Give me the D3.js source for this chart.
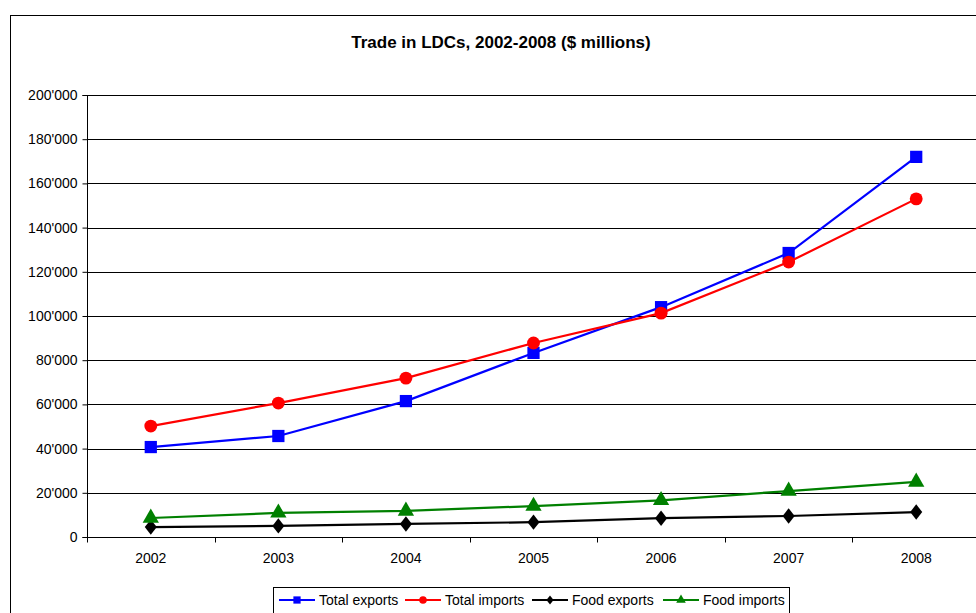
<!DOCTYPE html>
<html>
<head>
<meta charset="utf-8">
<script src="https://cdn.jsdelivr.net/npm/d3@7"></script>
<style>
  body { margin: 0; background: #fff; }
  svg { display: block; font-family: "Liberation Sans", Arial, sans-serif; }
</style>
</head>
<body>
<div id="chart"></div>
<script>
// data
var years = ["2002", "2003", "2004", "2005", "2006", "2007", "2008"];
var totalExports = [40700, 45700, 61500, 83300, 104000, 128500, 172000];
var totalImports = [50200, 60600, 71900, 87800, 101300, 124400, 153000];
var foodExports = [4500, 5000, 5900, 6700, 8500, 9500, 11300];
var foodImports = [8600, 10900, 11800, 14000, 16600, 20800, 24900];
var yTicks = [0, 20000, 40000, 60000, 80000, 100000, 120000, 140000, 160000, 180000, 200000];

// diamond drawn as a rotated square, a bit taller than wide
var diamond = {
  draw: function(ctx, size) {
    var w = Math.sqrt(size) * 0.55, h = Math.sqrt(size) * 0.7;
    ctx.moveTo(0, -h); ctx.lineTo(w, 0); ctx.lineTo(0, h); ctx.lineTo(-w, 0); ctx.closePath();
  }
};

var series = [
  {name: "Total exports", values: totalExports, color: "#0000ff", shape: d3.symbolSquare, size: 150},
  {name: "Total imports", values: totalImports, color: "#ff0000", shape: d3.symbolCircle, size: 130},
  {name: "Food exports", values: foodExports, color: "#000000", shape: diamond, size: 120},
  {name: "Food imports", values: foodImports, color: "#008000", shape: d3.symbolTriangle, size: 115}
];

var W = 976, H = 613;
var margin = {top: 95, left: 87};
var plotW = 893, plotH = 442;

var svg = d3.select("#chart").append("svg")
  .attr("width", W)
  .attr("height", H);

// outer chart border
svg.append("rect")
  .attr("x", 10.5).attr("y", 15.5)
  .attr("width", 1000).attr("height", 700)
  .attr("fill", "none")
  .attr("stroke", "#000")
  .attr("stroke-width", 1);

// title
svg.append("text")
  .attr("x", 501)
  .attr("y", 48)
  .attr("text-anchor", "middle")
  .style("font-size", "17px")
  .style("font-weight", "bold")
  .text("Trade in LDCs, 2002-2008 ($ millions)");

var g = svg.append("g")
  .attr("transform", "translate(" + margin.left + "," + margin.top + ")");

var x = d3.scaleBand()
  .domain(years)
  .range([0, plotW]);

var y = d3.scaleLinear()
  .domain([0, 200000])
  .range([plotH, 0]);

// gridlines
g.selectAll(".grid")
  .data(yTicks.slice(1))
  .enter()
  .append("line")
    .attr("x1", 0).attr("x2", plotW)
    .attr("y1", function(d) { return Math.round(y(d)) + 0.5; })
    .attr("y2", function(d) { return Math.round(y(d)) + 0.5; })
    .attr("stroke", "#000")
    .attr("stroke-width", 1);

// Y axis
var yAxis = g.append("g")
  .attr("transform", "translate(0.5,0)")
  .call(d3.axisLeft(y).tickValues(yTicks).tickSize(5).tickPadding(5)
    .tickFormat(function(d) { return d3.format(",")(d).replace(/,/g, "'"); }));
yAxis.selectAll("text").style("font-size", "14px").attr("fill", "#000").style("font-family", "Liberation Sans, Arial, sans-serif");
yAxis.select(".domain").attr("d", "M-5,0.5H0V" + (plotH + 0.5) + "H-5").attr("stroke", "#000");

// X axis
var xAxis = g.append("g")
  .attr("transform", "translate(0," + (plotH + 0.5) + ")")
  .call(d3.axisBottom(x).tickSize(0).tickPadding(16));
xAxis.selectAll("text").style("font-size", "14px").attr("fill", "#000").style("font-family", "Liberation Sans, Arial, sans-serif");
xAxis.select(".domain").attr("d", "M0,0H" + plotW).attr("stroke", "#000");
xAxis.selectAll(".xtick")
  .data(years)
  .enter()
  .append("line")
    .attr("x1", function(d) { return Math.round(x(d)) + 0.5; })
    .attr("x2", function(d) { return Math.round(x(d)) + 0.5; })
    .attr("y1", 0).attr("y2", 5)
    .attr("stroke", "#000");

// lines and markers
var line = d3.line()
  .x(function(d, i) { return x(years[i]) + x.bandwidth() / 2; })
  .y(function(d) { return y(d); });

series.forEach(function(s) {
  g.append("path")
    .datum(s.values)
    .attr("d", line)
    .attr("fill", "none")
    .attr("stroke", s.color)
    .attr("stroke-width", 2.2);

  g.selectAll(null)
    .data(s.values)
    .enter()
    .append("path")
      .attr("d", d3.symbol().type(s.shape).size(s.size))
      .attr("transform", function(d, i) {
        return "translate(" + (x(years[i]) + x.bandwidth() / 2) + "," + y(d) + ")";
      })
      .attr("fill", s.color);
});

// legend
var legend = svg.append("g");
legend.append("rect")
  .attr("x", 273.5).attr("y", 587.5)
  .attr("width", 516).attr("height", 40)
  .attr("fill", "#fff")
  .attr("stroke", "#000");

var legendX = [279, 405, 532, 663];
series.forEach(function(s, i) {
  var lg = legend.append("g").attr("transform", "translate(" + legendX[i] + ",600)");
  lg.append("line")
    .attr("x1", 0).attr("x2", 36)
    .attr("y1", 0).attr("y2", 0)
    .attr("stroke", s.color).attr("stroke-width", 2.2);
  lg.append("path")
    .attr("d", d3.symbol().type(s.shape).size(s.size * 0.35))
    .attr("transform", "translate(18,0)")
    .attr("fill", s.color);
  lg.append("text")
    .attr("x", 40)
    .attr("y", 5)
    .style("font-size", "14px")
    .text(s.name);
});
</script>
</body>
</html>
